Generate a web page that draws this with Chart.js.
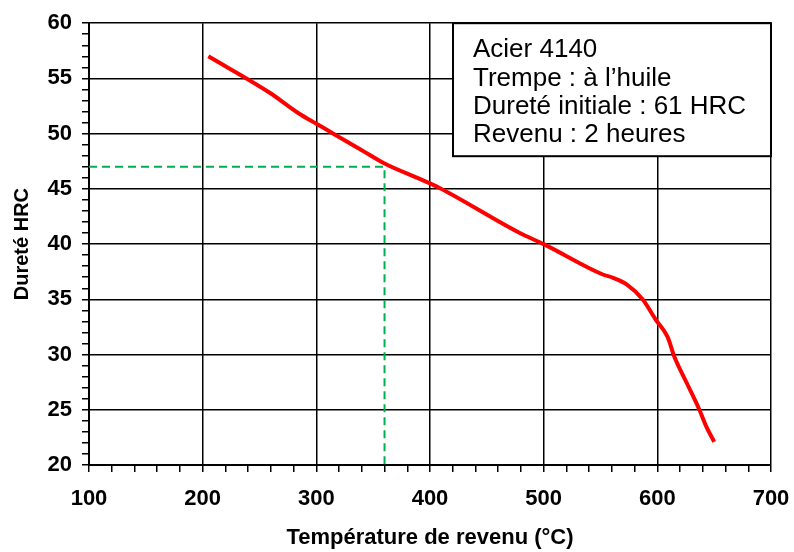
<!DOCTYPE html>
<html lang="fr">
<head>
<meta charset="utf-8">
<title>Acier 4140 – dureté après revenu</title>
<script src="https://cdn.jsdelivr.net/npm/chart.js@4/dist/chart.umd.min.js"></script>
<style>
  html, body { margin: 0; padding: 0; background: #fff; }
  #c { display: block; }
</style>
</head>
<body>
<canvas id="c" width="794" height="552"></canvas>
<script>
// Courbe de revenu : température (°C) et dureté (HRC)
const temperatures = [205, 259, 285, 300, 315, 340, 360, 391, 408, 479, 500, 552, 561, 573, 587, 599, 609, 615, 626, 637, 643, 650];
const hardness     = [57.0, 53.7, 51.8, 50.9, 50.0, 48.5, 47.3, 45.9, 45.1, 41.0, 40.0, 37.25, 36.95, 36.35, 35.0, 33.1, 31.6, 29.8, 27.4, 25.0, 23.5, 22.1];

// Lecture : 360 °C donne 47 HRC
const readTemp = [100, 360, 360];
const readHard = [47, 47, 20];

const xTickLabels = [100, 200, 300, 400, 500, 600, 700];
const yTickLabels = [20, 25, 30, 35, 40, 45, 50, 55, 60];

const infoLines = ['Acier 4140', 'Trempe : à l\u2019huile', 'Dureté initiale : 61 HRC', 'Revenu : 2 heures'];

const FONT = '"Liberation Sans", Arial, Helvetica, sans-serif';

const curve = temperatures.map((t, i) => ({ x: t, y: hardness[i] }));
const reading = readTemp.map((t, i) => ({ x: t, y: readHard[i] }));

// Encadré d'information en haut à droite
const infoBox = {
  id: 'infoBox',
  afterDraw(chart) {
    const { ctx, chartArea } = chart;
    const w = 318, h = 133;
    const x = chartArea.right - w, y = chartArea.top;
    ctx.save();
    ctx.fillStyle = '#fff';
    ctx.fillRect(x, y, w, h);
    ctx.strokeStyle = '#000';
    ctx.lineWidth = 2;
    ctx.strokeRect(x, y, w, h);
    ctx.fillStyle = '#000';
    ctx.font = '26px ' + FONT;
    ctx.textAlign = 'left';
    ctx.textBaseline = 'alphabetic';
    infoLines.forEach((line, i) => {
      ctx.fillText(line, x + 20, y + 34 + i * 28.4);
    });
    ctx.restore();
  }
};

const isMajorX = v => xTickLabels.includes(v);
const isMajorY = v => yTickLabels.includes(v);

new Chart(document.getElementById('c'), {
  type: 'line',
  data: {
    datasets: [
      {
        data: curve,
        borderColor: '#ff0000',
        borderWidth: 4,
        pointRadius: 0,
        fill: false,
        cubicInterpolationMode: 'monotone'
      },
      {
        data: reading,
        borderColor: '#00b050',
        borderWidth: 2,
        borderDash: [8, 5],
        pointRadius: 0,
        fill: false,
        tension: 0
      }
    ]
  },
  options: {
    responsive: false,
    devicePixelRatio: 1,
    animation: false,
    layout: { padding: { top: 20, right: 23, left: 0, bottom: 0 } },
    plugins: {
      legend: { display: false },
      tooltip: { enabled: false }
    },
    scales: {
      x: {
        type: 'linear',
        min: 100,
        max: 700,
        afterFit(scale) {
          scale.height = 87;
          scale.paddingLeft = 0;
          scale.paddingRight = 0;
        },
        ticks: {
          stepSize: 20,
          autoSkip: false,
          maxRotation: 0,
          padding: 14,
          color: '#000',
          font: { family: FONT, size: 22, weight: 'bold' },
          callback: v => isMajorX(v) ? String(v) : ''
        },
        grid: {
          color: c => (c.tick && isMajorX(c.tick.value)) ? '#000' : 'rgba(0,0,0,0)',
          lineWidth: 1.5,
          tickColor: '#000',
          tickLength: 7,
          tickWidth: 1.5
        },
        border: { color: '#000', width: 2 },
        title: {
          display: true,
          text: 'Température de revenu (°C)',
          color: '#000',
          font: { family: FONT, size: 22, weight: 'bold' },
          padding: { top: 0, bottom: 1 }
        }
      },
      y: {
        type: 'linear',
        min: 20,
        max: 60,
        afterFit(scale) { scale.width = 89; },
        ticks: {
          stepSize: 1,
          autoSkip: false,
          padding: 10,
          color: '#000',
          font: { family: FONT, size: 22, weight: 'bold' },
          callback: v => isMajorY(v) ? String(v) : ''
        },
        grid: {
          color: c => (c.tick && isMajorY(c.tick.value)) ? '#000' : 'rgba(0,0,0,0)',
          lineWidth: 1.5,
          tickColor: '#000',
          tickLength: 7,
          tickWidth: 1.5
        },
        border: { color: '#000', width: 2 },
        title: {
          display: true,
          text: 'Dureté HRC',
          color: '#000',
          font: { family: FONT, size: 20, weight: 'bold' },
          padding: { top: 10, bottom: 0 }
        }
      }
    }
  },
  plugins: [infoBox]
});
</script>
</body>
</html>
